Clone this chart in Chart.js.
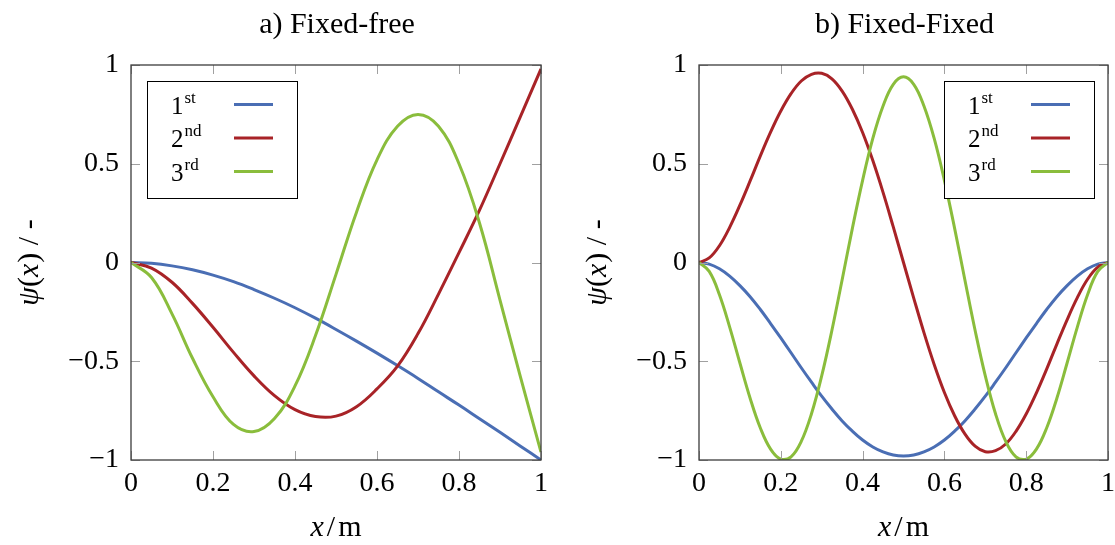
<!DOCTYPE html>
<html>
<head>
<meta charset="utf-8">
<script src="https://cdn.jsdelivr.net/npm/chart.js@4.4.1/dist/chart.umd.min.js"></script>
<style>
  html, body { margin: 0; padding: 0; background: #ffffff; }
  #wrap { position: relative; width: 1115px; height: 545px; }
  canvas { position: absolute; top: 0; }
  #c1 { left: 0; }
  #c2 { left: 557px; }
</style>
</head>
<body>
<div id="wrap">
  <canvas id="c1" width="557" height="545"></canvas>
  <canvas id="c2" width="558" height="545"></canvas>
</div>
<script>
// Beam mode shapes psi(x) along a 1 m beam, first three modes.

// Panel a) fixed-free beam, sampled every 0.05 m
const xFree = [0, 0.05, 0.1, 0.15, 0.2, 0.25, 0.3, 0.35, 0.4, 0.45, 0.5,
               0.55, 0.6, 0.65, 0.7, 0.75, 0.8, 0.85, 0.9, 0.95, 1];
const mode1Free = [0, -0.004, -0.017, -0.037, -0.064, -0.097, -0.137, -0.181, -0.229, -0.282, -0.339,
                   -0.398, -0.459, -0.522, -0.587, -0.655, -0.722, -0.791, -0.860, -0.930, -1.0];
const mode2Free = [0, -0.028, -0.10, -0.207, -0.328, -0.455, -0.574, -0.674, -0.745, -0.78, -0.778,
                   -0.73, -0.64, -0.525, -0.36, -0.16, 0.05, 0.265, 0.5, 0.74, 0.98];
const mode3Free = [0, -0.076, -0.26, -0.485, -0.68, -0.82, -0.856, -0.79, -0.625, -0.37, -0.06,
                   0.255, 0.52, 0.69, 0.75, 0.69, 0.5, 0.2, -0.19, -0.58, -0.96];

// Panel b) fixed-fixed beam, sampled every 0.025 m
const xFixed = [0, 0.025, 0.05, 0.075, 0.1, 0.125, 0.15, 0.175, 0.2, 0.225, 0.25,
                0.275, 0.3, 0.325, 0.35, 0.375, 0.4, 0.425, 0.45, 0.475, 0.5,
                0.525, 0.55, 0.575, 0.6, 0.625, 0.65, 0.675, 0.7, 0.725, 0.75,
                0.775, 0.8, 0.825, 0.85, 0.875, 0.9, 0.925, 0.95, 0.975, 1];
const mode1Fixed = [0, -0.008, -0.032, -0.069, -0.117, -0.173, -0.238, -0.309, -0.382, -0.457, -0.533,
                    -0.606, -0.677, -0.742, -0.802, -0.854, -0.899, -0.934, -0.959, -0.975, -0.98,
                    -0.975, -0.959, -0.934, -0.899, -0.854, -0.802, -0.742, -0.677, -0.606, -0.533,
                    -0.457, -0.382, -0.309, -0.238, -0.173, -0.117, -0.069, -0.032, -0.008, 0];
const mode2Fixed = [0, 0.023, 0.085, 0.178, 0.29, 0.413, 0.54, 0.66, 0.767, 0.855, 0.919,
                    0.953, 0.958, 0.93, 0.868, 0.776, 0.658, 0.516, 0.355, 0.18, 0,
                    -0.18, -0.355, -0.516, -0.658, -0.776, -0.868, -0.93, -0.958, -0.953, -0.919,
                    -0.855, -0.767, -0.66, -0.54, -0.413, -0.29, -0.178, -0.085, -0.023, 0];
const mode3Fixed = [0, -0.045, -0.163, -0.327, -0.509, -0.687, -0.838, -0.945, -0.996, -0.984, -0.906,
                    -0.766, -0.574, -0.343, -0.087, 0.173, 0.416, 0.628, 0.792, 0.902, 0.94,
                    0.902, 0.792, 0.628, 0.416, 0.173, -0.087, -0.343, -0.574, -0.766, -0.906,
                    -0.984, -0.996, -0.945, -0.838, -0.687, -0.509, -0.327, -0.163, -0.045, 0];

// Legend text and tick settings
const modeNumbers = ['1', '2', '3'];
const modeSuffixes = ['st', 'nd', 'rd'];
const modeColors = ['#4a6eb4', '#a82327', '#8abd3c'];
const xTickStep = 0.2;
const yTickStep = 0.5;

const FONT = '"Liberation Serif", "DejaVu Serif", serif';
const TICK_LEN = 9;

function fmtTick(v) {
  const r = Math.round(v * 10) / 10;
  return r < 0 ? '\u2212' + String(-r) : String(r);
}

// Draw a line of text made of upright / italic runs, centred on cx
function drawRuns(ctx, runs, cx, baseline, size) {
  let total = 0;
  const widths = runs.map(r => {
    ctx.font = (r.i ? 'italic ' : '') + size + 'px ' + FONT;
    const w = ctx.measureText(r.t).width + (r.gap || 0);
    total += w;
    return w;
  });
  let x = cx - total / 2;
  ctx.textAlign = 'left';
  ctx.textBaseline = 'alphabetic';
  runs.forEach((r, k) => {
    ctx.font = (r.i ? 'italic ' : '') + size + 'px ' + FONT;
    ctx.fillText(r.t, x, baseline);
    x += widths[k];
  });
}

const decor = {
  id: 'decor',
  afterDatasetsDraw(chart, args, o) {
    const ctx = chart.ctx;
    const a = chart.chartArea;
    const sx = chart.scales.x, sy = chart.scales.y;
    ctx.save();

    // inward tick marks on all four sides
    ctx.strokeStyle = '#a0a0a0';
    ctx.lineWidth = 1;
    ctx.beginPath();
    sx.ticks.forEach(t => {
      const p = Math.round(sx.getPixelForValue(t.value)) + 0.5;
      ctx.moveTo(p, a.bottom); ctx.lineTo(p, a.bottom - TICK_LEN);
      ctx.moveTo(p, a.top); ctx.lineTo(p, a.top + TICK_LEN);
    });
    sy.ticks.forEach(t => {
      const p = Math.round(sy.getPixelForValue(t.value)) + 0.5;
      ctx.moveTo(a.left, p); ctx.lineTo(a.left + TICK_LEN, p);
      ctx.moveTo(a.right, p); ctx.lineTo(a.right - TICK_LEN, p);
    });
    ctx.stroke();

    // axis frame
    ctx.strokeStyle = '#3c3c3c';
    ctx.lineWidth = 1.3;
    ctx.strokeRect(a.left, a.top, a.right - a.left, a.bottom - a.top);

    // legend box
    const bw = 150, bh = 117;
    const bx = o.legend === 'left' ? a.left + 16 : a.right - 14 - bw;
    const by = a.top + 16;
    ctx.fillStyle = '#ffffff';
    ctx.fillRect(bx, by, bw, bh);
    ctx.strokeStyle = '#000000';
    ctx.lineWidth = 1;
    ctx.strokeRect(bx + 0.5, by + 0.5, bw, bh);
    chart.data.datasets.forEach((ds, i) => {
      const cy = by + 23.5 + i * 33.5;
      ctx.fillStyle = '#000000';
      ctx.textAlign = 'left';
      ctx.textBaseline = 'alphabetic';
      ctx.font = '25px ' + FONT;
      ctx.fillText(modeNumbers[i], bx + 24, cy + 9);
      const w = ctx.measureText(modeNumbers[i]).width;
      ctx.font = '17px ' + FONT;
      ctx.fillText(modeSuffixes[i], bx + 24 + w + 1, cy - 2);
      ctx.strokeStyle = ds.borderColor;
      ctx.lineWidth = 3;
      ctx.beginPath();
      ctx.moveTo(bx + 87, cy);
      ctx.lineTo(bx + 126, cy);
      ctx.stroke();
    });
    ctx.restore();
  },
  afterDraw(chart, args, o) {
    const ctx = chart.ctx;
    const a = chart.chartArea;
    const cx = (a.left + a.right) / 2;
    ctx.save();
    ctx.fillStyle = '#000000';
    // panel title
    ctx.font = '30px ' + FONT;
    ctx.textAlign = 'center';
    ctx.textBaseline = 'alphabetic';
    ctx.fillText(o.title, cx + 1, 33);
    // x axis title
    drawRuns(ctx, [{ t: 'x', i: true, gap: 3 }, { t: '/', gap: 3 }, { t: 'm' }], cx, 536, 30);
    // y axis title, rotated
    ctx.translate(a.left - 93, (a.top + a.bottom) / 2);
    ctx.rotate(-Math.PI / 2);
    drawRuns(ctx, [{ t: '\u03C8', i: true }, { t: '(' }, { t: 'x', i: true, gap: 1 }, { t: ') / -' }], 0, 0, 30);
    ctx.restore();
  }
};

function buildChart(canvasId, xs, series, cfg) {
  const datasets = series.map((vals, i) => ({
    label: modeNumbers[i] + modeSuffixes[i],
    data: xs.map((x, k) => ({ x: x, y: vals[k] })),
    borderColor: modeColors[i],
    backgroundColor: modeColors[i],
    borderWidth: 3,
    pointRadius: 0,
    fill: false,
    tension: 0.4,
    order: 3 - i
  }));
  const tickFont = { family: FONT, size: 28 };
  return new Chart(document.getElementById(canvasId), {
    type: 'line',
    data: { datasets: datasets },
    plugins: [decor],
    options: {
      responsive: false,
      animation: false,
      devicePixelRatio: 1,
      events: [],
      layout: { padding: { top: 65, right: cfg.padRight, left: 0, bottom: 0 } },
      plugins: {
        legend: { display: false },
        tooltip: { enabled: false },
        title: { display: false },
        decor: { title: cfg.title, legend: cfg.legend }
      },
      scales: {
        x: {
          type: 'linear', min: 0, max: 1,
          grid: { display: false, drawTicks: false },
          border: { display: false },
          ticks: { stepSize: xTickStep, padding: 7, font: tickFont, color: '#000000',
                   maxRotation: 0, autoSkip: false, callback: fmtTick },
          afterFit: s => { s.height = 85; s.paddingLeft = 0; s.paddingRight = 0; }
        },
        y: {
          type: 'linear', min: -1, max: 1,
          grid: { display: false, drawTicks: false },
          border: { display: false },
          ticks: { stepSize: yTickStep, padding: 12, font: tickFont, color: '#000000',
                   autoSkip: false, callback: fmtTick },
          afterFit: s => { s.width = cfg.yWidth; s.paddingTop = 0; s.paddingBottom = 0; }
        }
      }
    }
  });
}

buildChart('c1', xFree, [mode1Free, mode2Free, mode3Free],
           { title: 'a) Fixed-free', legend: 'left', padRight: 16, yWidth: 131 });
buildChart('c2', xFixed, [mode1Fixed, mode2Fixed, mode3Fixed],
           { title: 'b) Fixed-Fixed', legend: 'right', padRight: 7, yWidth: 142 });
</script>
</body>
</html>
